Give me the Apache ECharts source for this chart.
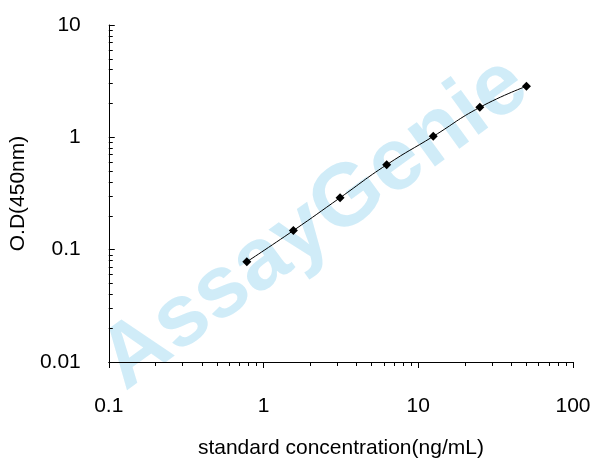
<!DOCTYPE html>
<html><head><meta charset="utf-8">
<script src="https://cdn.jsdelivr.net/npm/echarts@6/dist/echarts.min.js"></script>
<style>body{margin:0;background:#fff}#c{width:608px;height:476px}</style>
</head><body><div id="c"></div>
<script>
var conc = [0.78, 1.56, 3.125, 6.25, 12.5, 25, 50];
var od = [0.078, 0.148, 0.29, 0.57, 1.02, 1.85, 2.85];
var xTicks = [0.1, 1, 10, 100];
var yTicks = [0.01, 0.1, 1, 10];

var chart = echarts.init(document.getElementById('c'));
var font = 'Liberation Sans, Arial, sans-serif';
chart.setOption({
  animation: false,
  grid: {left: 97, right: 35, top: 25, bottom: 114},
  graphic: [{
    type: 'text', left: 85, top: 40, rotation: Math.PI * 0.2, z: -1,
    style: {text: 'AssayGenie', font: 'bold 88px ' + font, fill: 'rgba(120,200,235,0.35)'}
  }],
  xAxis: {
    type: 'log', logBase: 10, min: 0.1, max: 100,
    name: 'standard concentration(ng/mL)', nameLocation: 'middle', nameGap: 76,
    nameTextStyle: {fontSize: 21, fontFamily: font, color: '#000'},
    axisLine: {lineStyle: {color: '#000'}},
    axisTick: {inside: false, length: 6, lineStyle: {color: '#000'}},
    minorTick: {show: true, splitNumber: 9, length: 4, lineStyle: {color: '#000'}},
    axisLabel: {fontSize: 21, fontFamily: font, color: '#000', margin: 34,
      formatter: function (v) { return xTicks.indexOf(+v.toPrecision(3)) >= 0 ? String(+v.toPrecision(3)) : ''; }},
    splitLine: {show: false}
  },
  yAxis: {
    type: 'log', logBase: 10, min: 0.01, max: 10,
    name: 'O.D(450nm)', nameLocation: 'middle', nameGap: 76,
    nameTextStyle: {fontSize: 21, fontFamily: font, color: '#000'},
    axisLine: {show: true, lineStyle: {color: '#000'}},
    axisTick: {inside: true, length: 6, lineStyle: {color: '#000'}},
    minorTick: {show: true, splitNumber: 9, length: 4, lineStyle: {color: '#000'}},
    axisLabel: {fontSize: 21, fontFamily: font, color: '#000', margin: 28,
      formatter: function (v) { return yTicks.indexOf(+v.toPrecision(3)) >= 0 ? String(+v.toPrecision(3)) : ''; }},
    splitLine: {show: false}
  },
  series: [{
    type: 'line', smooth: true,
    data: conc.map(function (c, i) { return [c, od[i]]; }),
    symbol: 'diamond', symbolSize: 9,
    itemStyle: {color: '#000'},
    lineStyle: {color: '#000', width: 1}
  }]
});
</script></body></html>
